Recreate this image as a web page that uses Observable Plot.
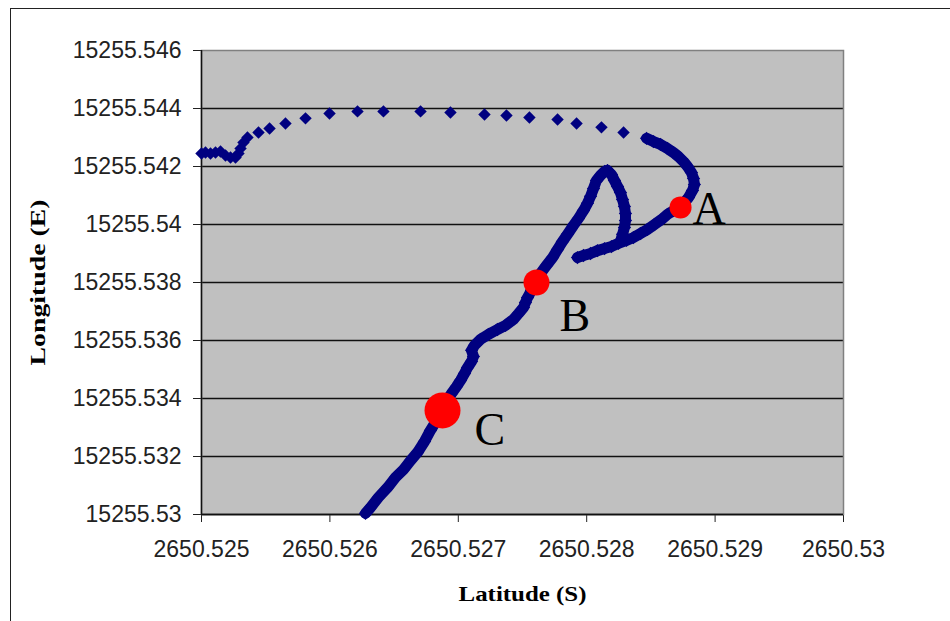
<!DOCTYPE html>
<html><head><meta charset="utf-8">
<script src="https://cdn.jsdelivr.net/npm/d3@7"></script>
<script src="https://cdn.jsdelivr.net/npm/@observablehq/plot@0.6"></script>
<style>
body{margin:0;background:#fff;}
#wrap{position:relative;width:950px;height:621px;overflow:hidden;background:#fff;}
#border{position:absolute;left:10px;top:8px;width:980px;height:660px;border:1.5px solid #222;box-sizing:border-box;pointer-events:none;}
</style></head><body><div id="wrap"><div id="chart"></div><div id="border"></div></div>
<script>
// Dense GPS track (lat S, lon E), segments of continuous recording
const trackSeg = [
 1,1,1,1,1,1,1,1,1,1,1,1,1,1,1,1,1,1,1,1,1,1,1,1,1,1,1,1,1,1,1,1,1,1,1,1,1,1,1,1,1,1,1,1,1,1,1,1,1,
 2,2,2,2,2,2,2,2,2,2,2,2,
 3,3,3,3,3,3,3,3,3,3,3,3,3,3,3,3,3,3,3,3,3,3,3,3,3,3,3,3,3,3
];
const trackLat = [
 2650.526277,2650.526316,2650.526378,2650.526449,2650.526511,2650.526573,2650.526628,2650.526682,2650.526737,2650.526783,
 2650.526830,2650.526877,2650.526916,2650.526947,2650.526986,2650.527017,2650.527048,2650.527072,2650.527103,2650.527118,
 2650.527103,2650.527126,2650.527173,2650.527235,2650.527305,2650.527368,2650.527430,2650.527469,2650.527508,2650.527523,
 2650.527539,2650.527570,2650.527609,2650.527640,2650.527687,2650.527734,2650.527773,2650.527811,2650.527850,2650.527897,
 2650.527936,2650.527975,2650.528006,2650.528030,2650.528053,2650.528076,2650.528107,2650.528139,2650.528162,
 2650.528162,2650.528193,2650.528216,2650.528240,2650.528263,2650.528279,2650.528294,2650.528302,2650.528302,2650.528294,
 2650.528279,2650.528263,
 2650.527928,2650.527975,2650.528030,2650.528084,2650.528139,2650.528193,2650.528248,2650.528310,2650.528364,2650.528419,
 2650.528473,2650.528528,2650.528582,2650.528629,2650.528676,2650.528723,2650.528762,2650.528793,2650.528824,2650.528839,
 2650.528832,2650.528816,2650.528785,2650.528754,2650.528715,2650.528676,2650.528629,2650.528575,2650.528520,2650.528466
];
const trackLon = [
 15255.53004,15255.53024,15255.53059,15255.53093,15255.53128,15255.53155,15255.53186,15255.53214,15255.53252,15255.53290,
 15255.53324,15255.53359,15255.53393,15255.53417,15255.53441,15255.53462,15255.53486,15255.53507,15255.53528,15255.53545,
 15255.53566,15255.53583,15255.53604,15255.53621,15255.53638,15255.53652,15255.53673,15255.53693,15255.53714,15255.53731,
 15255.53748,15255.53773,15255.53800,15255.53831,15255.53859,15255.53886,15255.53914,15255.53941,15255.53966,15255.53997,
 15255.54021,15255.54048,15255.54073,15255.54097,15255.54124,15255.54152,15255.54169,15255.54183,15255.54186,
 15255.54186,15255.54172,15255.54152,15255.54131,15255.54110,15255.54086,15255.54062,15255.54038,15255.54014,15255.53990,
 15255.53966,15255.53941,
 15255.53886,15255.53893,15255.53900,15255.53910,15255.53917,15255.53924,15255.53935,15255.53945,15255.53955,15255.53969,
 15255.53983,15255.54000,15255.54017,15255.54035,15255.54048,15255.54059,15255.54076,15255.54093,15255.54117,15255.54138,
 15255.54159,15255.54179,15255.54200,15255.54217,15255.54234,15255.54248,15255.54262,15255.54276,15255.54286,15255.54297
];
// Sparse fixes along the northern arc and the cluster at the western end
const dotLat = [
 2650.528287,2650.528115,2650.527921,2650.527773,2650.527554,2650.527375,2650.527204,2650.526939,2650.526706,2650.526417,
 2650.526215,2650.525997,2650.525810,2650.525654,2650.525530,2650.525444,2650.525358,2650.525327,2650.525304,
 2650.525288,2650.525265,2650.525226,2650.525187,2650.525148,2650.525109,2650.525070,2650.525031,2650.525000
];
const dotLon = [
 15255.54317,15255.54335,15255.54348,15255.54362,15255.54369,15255.54376,15255.54379,15255.54386,15255.54390,15255.54390,
 15255.54390,15255.54383,15255.54366,15255.54348,15255.54331,15255.54317,15255.54300,15255.54283,15255.54262,
 15255.54245,15255.54231,15255.54231,15255.54238,15255.54252,15255.54248,15255.54245,15255.54248,15255.54245
];
// Highlighted positions
const markLabel = ["A", "B", "C"];
const markLat = [2650.528731, 2650.527609, 2650.526877];
const markLon = [15255.54059, 15255.53800, 15255.53359];
// Axis ticks
const xTicks = [2650.525, 2650.526, 2650.527, 2650.528, 2650.529, 2650.53];
const xTickLabels = ["2650.525", "2650.526", "2650.527", "2650.528", "2650.529", "2650.53"];
const yTicks = [15255.53, 15255.532, 15255.534, 15255.536, 15255.538, 15255.54, 15255.542, 15255.544, 15255.546];
const yTickLabels = ["15255.53", "15255.532", "15255.534", "15255.536", "15255.538", "15255.54", "15255.542", "15255.544", "15255.546"];
const xTitle = "Latitude (S)";
const yTitle = "Longitude (E)";

const track = trackLat.map((lat, i) => ({lat, lon: trackLon[i], seg: trackSeg[i]}));
const dots = dotLat.map((lat, i) => ({lat, lon: dotLon[i]}));
const pts = markLabel.map((label, i) => ({label, lat: markLat[i], lon: markLon[i]}));
const radius = {A: 11, B: 13, C: 18};
const offset = {A: [12, 2], B: [23, 34], C: [32, 20]};
const navy = "#000080";
const serif = "'Liberation Serif', 'Times New Roman', serif";

const plot = Plot.plot({
  width: 950, height: 621,
  marginLeft: 201, marginRight: 107, marginTop: 50, marginBottom: 107,
  style: {background: "transparent", fontFamily: "'Liberation Sans', Arial, sans-serif", fontSize: "23px", color: "#222"},
  x: {domain: [2650.525, 2650.53], ticks: xTicks, tickFormat: d => xTickLabels[xTicks.indexOf(d)], tickSize: 8, tickPadding: 18, label: null},
  y: {domain: [15255.53, 15255.546], ticks: yTicks, tickFormat: d => yTickLabels[yTicks.indexOf(d)], tickSize: 8, tickPadding: 12, label: null},
  marks: [
    Plot.frame({fill: "#c0c0c0"}),
    Plot.ruleY(yTicks.slice(0, -1), {stroke: "#111", strokeWidth: 1.5}),
    Plot.frame({stroke: "#808080", strokeWidth: 1.5}),
    Plot.ruleX([xTicks[0]], {stroke: "#111", strokeWidth: 1.5}),
    Plot.ruleY([yTicks[0]], {stroke: "#111", strokeWidth: 1.5}),
    Plot.line(track, {x: "lat", y: "lon", z: "seg", stroke: navy, strokeWidth: 11, strokeLinejoin: "round", strokeLinecap: "round"}),
    Plot.dot(track, {x: "lat", y: "lon", symbol: "diamond2", r: 6, fill: navy}),
    Plot.dot(dots, {x: "lat", y: "lon", symbol: "diamond2", r: 5.6, fill: navy}),
    ...markLabel.map(l => Plot.dot(pts.filter(d => d.label === l), {x: "lat", y: "lon", r: radius[l], fill: "#ff0000"})),
    ...markLabel.map(l => Plot.text(pts.filter(d => d.label === l), {x: "lat", y: "lon", text: "label", dx: offset[l][0], dy: offset[l][1], textAnchor: "start", fontFamily: serif, fontSize: 46, fill: "#000"})),
    Plot.text([xTitle], {text: d => d, frameAnchor: "bottom", textAnchor: "middle", dy: 86, fontFamily: serif, fontWeight: "bold", fontSize: 22, fill: "#000", className: "xtitle"}),
    Plot.text([yTitle], {text: d => d, frameAnchor: "left", textAnchor: "middle", dx: -164, rotate: -90, fontFamily: serif, fontWeight: "bold", fontSize: 22, fill: "#000", className: "ytitle"})
  ]
});
d3.select(plot).selectAll(".xtitle text").attr("textLength", 128).attr("lengthAdjust", "spacingAndGlyphs");
d3.select(plot).selectAll(".ytitle text").attr("textLength", 166).attr("lengthAdjust", "spacingAndGlyphs");
document.getElementById("chart").appendChild(plot);
</script>
</body></html>
